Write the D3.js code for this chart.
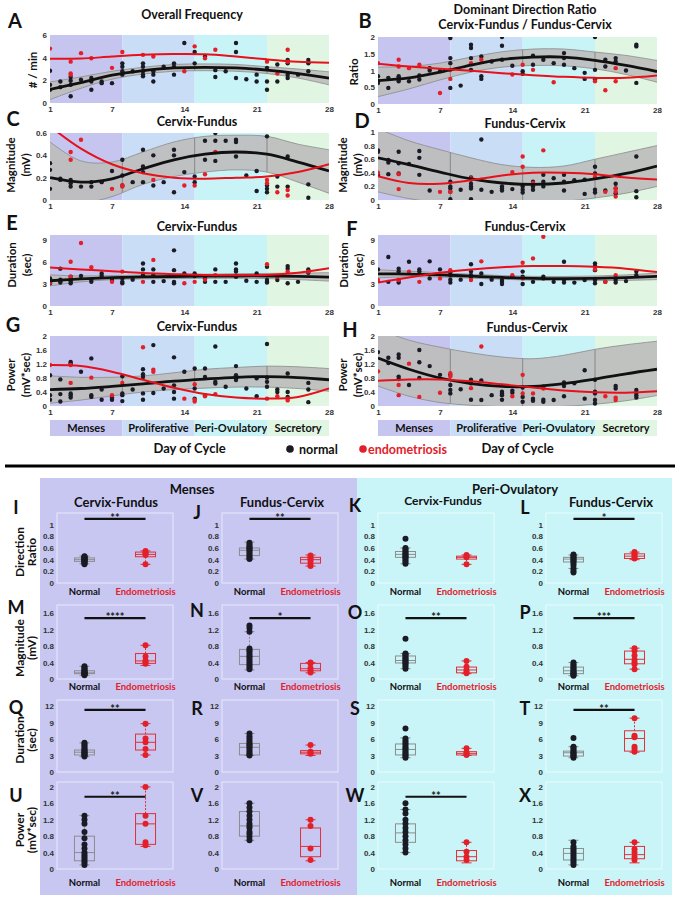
<!DOCTYPE html>
<html><head><meta charset="utf-8">
<script src="https://cdn.jsdelivr.net/npm/d3@7"></script>
<style>body{margin:0;background:#fff}svg{display:block}</style>
</head><body><svg id="c" width="680" height="900"></svg>
<script>
// ================= DATA =================
const dayTicks=[1,7,14,21,28];
const phaseNames=["Menses","Proliferative","Peri-Ovulatory","Secretory"];
const phaseStart=[1,8,15,22];
const phaseEnd=[8,15,22,28];
const fitDays=[1,4,7,10,13,16,19,22,25,28];

// A: Overall Frequency
const aNormal=[[1,2.84],[1,1.6],[1,1.17],[2,1.9],[2,1.4],[3,2.3],[3,1.96],[3,1.6],[3,0.6],[4,2.05],[5,2.2],[5,1.9],[5,1.17],[6,1.9],[6,1.75],[7,1.75],[8,3.5],[8,3.2],[8,2.8],[8,2.5],[9,2.8],[10,3.5],[10,3.2],[10,2.8],[10,2.5],[10,2.35],[11,2.8],[11,2.5],[11,1.9],[12,3.2],[13,3.5],[13,3.2],[13,2.5],[14,5.3],[15,4.5],[15,3.5],[16,4.1],[17,2.9],[17,2.3],[18,2.8],[19,5.3],[19,4.5],[19,2.2],[20,2.1],[21,2.5],[21,1.9],[22,3.1],[22,1.9],[22,1.17],[23,3.4],[23,1.9],[24,3.8],[24,3.5],[24,2.5],[24,2.2],[25,2.5],[26,3.8],[26,3.5],[26,2.8]];
const aEndo=[[1,4.8],[3,3.65],[3,2.6],[3,2.5],[4,4.4],[5,3.95],[7,3.1],[8,4.5],[10,4.25],[11,4.1],[14,2.8],[15,5.0],[16,3.95],[17,4.7],[22,3.65],[23,2.6],[24,4.7],[24,3.65]];
const aFit=[1.2,1.8,2.45,2.85,3.1,3.15,3.1,2.9,2.6,2.2];
const aUpper=[1.85,2.3,2.8,3.15,3.4,3.45,3.4,3.2,3.0,2.75];
const aLower=[0.3,1.3,2.1,2.55,2.8,2.85,2.8,2.6,2.2,1.6];
const aEndoFit=[3.9,3.92,4.1,4.25,4.32,4.3,4.1,3.85,3.65,3.55];

// B: Direction ratio
const bNormal=[[1,0.83],[1,0.68],[1,0.63],[2,0.78],[2,0.48],[3,0.83],[3,0.78],[3,0.73],[3,0.68],[4,0.68],[5,0.85],[5,0.73],[6,1.07],[6,1.0],[7,0.98],[8,1.97],[8,1.37],[8,1.22],[8,0.48],[9,0.55],[10,1.77],[10,1.67],[10,1.37],[10,1.02],[11,1.42],[11,0.83],[11,0.75],[12,1.27],[13,2.0],[13,1.74],[13,1.32],[14,1.14],[15,0.98],[15,0.9],[16,1.44],[16,1.17],[17,1.32],[18,1.22],[19,1.52],[19,1.37],[19,1.17],[20,1.07],[21,0.93],[21,0.75],[22,2.0],[22,1.02],[22,0.73],[23,1.32],[23,1.12],[24,1.37],[24,1.27],[25,1.0],[26,1.77],[26,1.72],[26,0.63]];
const bEndo=[[1,1.22],[3,1.32],[3,1.12],[4,1.07],[5,1.17],[7,0.33],[8,1.02],[8,0.75],[10,1.22],[11,1.32],[14,0.88],[15,1.17],[16,1.02],[18,0.65],[22,0.68],[23,0.41],[24,1.07],[24,0.68]];
const bFit=[0.7,0.78,0.95,1.16,1.33,1.4,1.4,1.3,1.15,0.97];
const bUpper=[1.1,1.12,1.22,1.4,1.56,1.64,1.64,1.55,1.45,1.3];
const bLower=[0.22,0.45,0.72,0.95,1.1,1.15,1.14,1.05,0.88,0.65];
const bEndoFit=[1.2,1.12,1.05,0.99,0.92,0.86,0.81,0.78,0.78,0.85];

// C: Cervix-Fundus magnitude
const cNormal=[[1,0.33],[1,0.27],[1,0.1],[2,0.19],[2,0.18],[3,0.18],[3,0.15],[3,0.12],[4,0.12],[5,0.16],[5,0.12],[6,0.16],[7,0.26],[8,0.36],[8,0.22],[8,0.13],[9,0.16],[10,0.45],[10,0.3],[10,0.25],[10,0.16],[11,0.4],[11,0.13],[12,0.16],[13,0.45],[13,0.4],[13,0.07],[14,0.25],[15,0.21],[15,0.16],[16,0.53],[16,0.36],[17,0.6],[17,0.53],[17,0.35],[18,0.53],[19,0.54],[19,0.52],[19,0.39],[20,0.22],[21,0.26],[21,0.08],[22,0.57],[22,0.13],[22,0.1],[22,0.07],[23,0.21],[23,0.12],[24,0.39],[24,0.12],[26,0.14],[26,0.02]];
const cEndo=[[3,0.43],[3,0.36],[4,0.54],[7,0.1],[8,0.13],[8,0.12],[11,0.18],[14,0.13],[15,0.13],[16,0.23],[17,0.43],[22,0.18],[22,0.15],[23,0.07],[24,0.09],[24,0.04]];
const cFit=[0.2,0.16,0.19,0.28,0.36,0.41,0.43,0.41,0.34,0.26];
const cUpper=[0.52,0.35,0.34,0.43,0.52,0.57,0.58,0.57,0.5,0.45];
const cLower=[-0.12,-0.04,0.03,0.14,0.21,0.25,0.27,0.25,0.16,0.06];
const cEndoFit=[0.66,0.46,0.32,0.24,0.2,0.19,0.2,0.21,0.25,0.32];

// D: Fundus-Cervix magnitude
const dNormal=[[1,0.73],[1,0.71],[1,0.37],[2,0.59],[2,0.55],[2,0.38],[3,0.71],[3,0.54],[3,0.39],[4,0.53],[5,0.72],[5,0.62],[5,0.37],[6,0.14],[8,0.27],[8,0.2],[8,0.17],[8,0.12],[8,0.01],[9,0.15],[10,0.33],[10,0.3],[10,0.24],[10,0.2],[10,0.17],[10,0.01],[11,0.89],[11,0.15],[12,0.12],[13,0.2],[13,0.17],[13,0.14],[14,0.16],[15,0.2],[15,0.15],[15,0.11],[16,0.27],[16,0.2],[16,0.15],[17,0.37],[17,0.27],[17,0.2],[18,0.32],[19,0.37],[19,0.27],[19,0.14],[20,0.29],[21,0.3],[21,0.09],[22,0.49],[22,0.39],[22,0.15],[22,0.11],[23,0.14],[24,0.24],[24,0.17],[24,0.1],[26,0.64],[26,0.13],[26,0.04]];
const dEndo=[[1,0.4],[3,0.38],[3,0.16],[7,0.12],[8,0.12],[10,0.32],[11,0.3],[14,0.41],[15,0.64],[15,0.49],[16,0.25],[17,0.73],[22,0.34],[23,0.12],[24,0.17],[24,0.12],[24,0.05]];
const dFit=[0.62,0.52,0.41,0.31,0.25,0.23,0.25,0.31,0.39,0.5];
const dUpper=[1.05,0.87,0.74,0.62,0.52,0.48,0.5,0.6,0.7,0.8];
const dLower=[0.12,0.02,-0.04,-0.06,-0.05,-0.04,-0.02,0.03,0.1,0.2];
const dEndoFit=[0.35,0.25,0.24,0.29,0.36,0.4,0.4,0.38,0.33,0.3];

// E: Cervix-Fundus duration
const eNormal=[[1,3.77],[1,3.1],[2,5.1],[2,3.6],[2,3.4],[2,3.2],[3,4.0],[3,3.55],[3,3.3],[3,3.1],[4,4.1],[5,3.6],[5,3.3],[6,4.45],[6,4.1],[7,3.55],[8,3.77],[8,3.3],[8,3.1],[9,3.6],[10,5.8],[10,5.0],[10,4.2],[11,5.0],[11,4.2],[11,3.3],[12,3.4],[13,7.6],[13,4.9],[13,3.3],[13,3.1],[14,4.45],[15,4.45],[15,4.1],[16,3.77],[16,3.3],[17,5.0],[17,3.3],[18,3.3],[19,5.8],[19,5.0],[19,4.7],[19,4.0],[20,3.45],[21,4.45],[21,3.3],[22,5.35],[22,3.55],[22,3.3],[22,3.2],[23,3.55],[24,5.45],[24,5.1],[24,3.1],[25,3.3],[26,5.0],[26,4.55]];
const eEndo=[[1,3.2],[3,6.05],[3,4.0],[4,8.6],[5,5.3],[7,3.3],[8,4.7],[10,3.3],[11,6.3],[14,3.1],[15,3.3],[16,3.6],[17,4.2],[22,5.7],[23,4.0],[24,4.7],[26,4.7]];
const eFit=[3.45,3.7,3.88,3.98,4.03,4.07,4.1,4.1,4.05,3.95];
const eUpper=[4.25,4.1,4.15,4.25,4.3,4.35,4.4,4.45,4.5,4.55];
const eLower=[2.75,3.3,3.6,3.7,3.75,3.78,3.8,3.75,3.6,3.4];
const eEndoFit=[5.25,5.0,4.75,4.5,4.35,4.25,4.2,4.25,4.55,5.15];

// F: Fundus-Cervix duration
const fNormal=[[1,5.0],[2,6.7],[2,3.3],[3,5.1],[3,4.7],[3,3.55],[3,3.2],[4,6.05],[5,5.0],[5,4.7],[6,6.1],[6,3.77],[7,5.0],[8,4.55],[8,4.2],[8,3.6],[8,3.2],[9,3.6],[10,5.7],[10,4.7],[10,4.2],[10,4.0],[11,4.45],[11,3.0],[12,3.6],[13,3.55],[13,3.3],[13,3.0],[14,4.0],[15,4.7],[15,4.0],[15,3.0],[16,3.3],[17,4.0],[17,3.77],[18,3.3],[19,6.05],[19,3.55],[19,3.2],[20,3.2],[21,3.55],[22,5.8],[22,5.45],[22,4.9],[22,3.55],[22,3.1],[23,3.3],[24,3.55],[24,3.2],[25,3.4],[26,4.7],[26,4.2]];
const fEndo=[[1,3.55],[3,3.55],[4,4.7],[5,3.3],[7,3.77],[8,4.9],[10,3.55],[11,6.1],[14,4.2],[15,5.9],[15,3.77],[16,6.5],[17,9.45],[22,5.0],[23,3.3],[24,4.2]];
const fFit=[4.4,4.36,4.25,4.08,3.9,3.78,3.75,3.78,3.88,4.05];
const fUpper=[4.95,4.75,4.55,4.35,4.15,4.05,4.03,4.1,4.25,4.5];
const fLower=[3.85,3.98,3.95,3.8,3.65,3.52,3.47,3.46,3.5,3.6];
const fEndoFit=[3.2,3.9,4.55,5.0,5.3,5.45,5.47,5.35,5.1,4.65];

// G: Cervix-Fundus power
const gNormal=[[1,0.88],[1,0.31],[1,0.18],[2,0.76],[2,0.34],[2,0.13],[3,1.26],[3,1.22],[3,0.36],[3,0.31],[3,0.24],[4,0.98],[5,1.36],[5,0.31],[5,0.26],[6,0.47],[6,0.18],[7,0.24],[7,0.18],[8,0.85],[8,0.36],[8,0.31],[8,0.14],[9,0.47],[10,1.05],[10,0.91],[10,0.83],[10,0.36],[10,0.18],[11,1.74],[11,0.37],[12,0.5],[13,1.39],[13,0.59],[13,0.4],[13,0.21],[14,0.98],[15,1.07],[15,0.5],[15,0.21],[16,1.07],[16,0.83],[16,0.31],[17,1.7],[17,0.69],[17,0.64],[18,0.55],[19,1.14],[19,0.88],[19,0.79],[19,0.74],[20,0.5],[21,0.79],[21,0.28],[22,1.77],[22,0.81],[22,0.69],[22,0.55],[23,0.47],[23,0.4],[24,0.93],[24,0.4],[24,0.26],[26,0.66],[26,0.47],[26,0.11]];
const gEndo=[[1,1.17],[3,1.17],[3,0.66],[5,0.81],[7,0.31],[8,0.66],[10,1.68],[11,1.04],[11,0.98],[14,0.21],[15,0.62],[15,0.18],[15,0.13],[16,0.28],[17,0.34],[22,0.21],[23,0.28],[24,0.21],[24,0.16]];
const gFit=[0.47,0.5,0.56,0.63,0.71,0.77,0.82,0.84,0.81,0.75];
const gUpper=[0.86,0.82,0.82,0.86,0.95,1.05,1.1,1.14,1.12,1.07];
const gLower=[0.08,0.17,0.29,0.4,0.47,0.51,0.54,0.54,0.5,0.42];
const gEndoFit=[1.17,1.14,0.98,0.75,0.52,0.34,0.24,0.21,0.26,0.5];

// H: Fundus-Cervix power
const hNormal=[[1,1.54],[2,1.38],[2,1.23],[3,1.47],[3,1.38],[3,0.84],[3,0.77],[4,0.6],[5,1.6],[5,1.25],[5,0.8],[6,1.14],[7,0.89],[8,0.89],[8,0.6],[8,0.46],[8,0.36],[9,0.48],[10,0.75],[10,0.65],[10,0.18],[11,0.73],[11,0.17],[12,0.31],[13,0.41],[13,0.36],[13,0.31],[13,0.18],[14,0.44],[14,0.38],[15,0.53],[15,0.26],[15,0.12],[16,0.21],[16,0.15],[17,0.55],[17,0.18],[17,0.12],[18,0.17],[19,0.67],[19,0.57],[19,0.28],[20,0.65],[21,1.02],[21,0.21],[22,0.75],[22,0.41],[22,0.36],[22,0.17],[22,0.07],[24,0.57],[24,0.5],[26,0.46],[26,0.38],[26,0.31],[26,0.24]];
const hEndo=[[1,0.99],[3,0.6],[3,0.31],[4,1.21],[5,0.26],[7,0.38],[8,0.94],[8,0.84],[10,0.51],[11,1.7],[14,0.28],[15,0.89],[15,0.36],[16,0.36],[17,0.5],[23,0.28],[24,0.24],[24,0.17]];
const hFit=[1.37,1.05,0.8,0.64,0.56,0.56,0.64,0.77,0.92,1.05];
const hUpper=[2.2,1.88,1.68,1.52,1.4,1.35,1.45,1.62,1.75,1.85];
const hLower=[0.57,0.28,0.1,0.02,-0.02,-0.03,-0.01,0.05,0.15,0.3];
const hEndoFit=[0.72,0.76,0.76,0.71,0.62,0.53,0.44,0.39,0.38,0.42];

// Box plots (I..X) stats = [whiskerLow, q1, median, q3, whiskerHigh]
const boxLetters=["I","J","K","L","M","N","O","P","Q","R","S","T","U","V","W","X"];
const boxGroups=["Normal","Endometriosis"];
const normalStats=[[0.33,0.37,0.40,0.43,0.46],[0.41,0.47,0.56,0.60,0.70],[0.33,0.44,0.49,0.54,0.60],[0.25,0.36,0.41,0.44,0.48],
 [0.09,0.13,0.15,0.20,0.31],[0.22,0.35,0.55,0.72,1.15],[0.25,0.39,0.45,0.56,0.62],[0.08,0.13,0.20,0.29,0.40],
 [2.8,3.1,3.6,4.0,5.3],[3.0,3.1,4.5,5.2,7.0],[2.6,3.1,4.1,5.1,6.2],[2.6,2.9,3.5,3.8,4.6],
 [0.1,0.2,0.4,0.8,1.3],[0.7,0.8,1.05,1.4,1.6],[0.4,0.65,0.88,1.1,1.45],[0.1,0.22,0.38,0.5,0.7]];
const endoStats=[[0.32,0.45,0.49,0.53,0.55],[0.29,0.34,0.40,0.44,0.48],[0.32,0.41,0.44,0.46,0.48],[0.40,0.42,0.46,0.50,0.53],
 [0.33,0.38,0.44,0.62,0.82],[0.15,0.20,0.25,0.38,0.40],[0.13,0.15,0.22,0.29,0.44],[0.24,0.37,0.48,0.68,0.75],
 [3.1,4.0,5.4,6.9,8.8],[3.0,3.3,3.6,3.9,4.9],[3.0,3.1,3.4,3.7,4.3],[3.6,3.8,6.1,7.5,9.8],
 [0.55,0.6,1.1,1.35,2.0],[0.2,0.3,0.55,1.0,1.2],[0.15,0.2,0.3,0.45,0.65],[0.15,0.25,0.35,0.55,0.65]];
const normalDots=[[0.32,0.34,0.35,0.37,0.38,0.39,0.4,0.41,0.42,0.43,0.44,0.45,0.46],
 [0.41,0.43,0.46,0.49,0.52,0.55,0.57,0.59,0.61,0.63,0.66,0.69],
 [0.33,0.36,0.39,0.42,0.44,0.46,0.48,0.5,0.52,0.55,0.58,0.6,0.76],
 [0.18,0.21,0.25,0.3,0.34,0.37,0.39,0.41,0.43,0.45,0.47,0.49],
 [0.09,0.11,0.12,0.13,0.14,0.15,0.16,0.18,0.2,0.22,0.25,0.28,0.31],
 [1.3,1.24,1.15,0.74,0.7,0.66,0.61,0.56,0.52,0.47,0.42,0.37,0.33,0.28,0.24],
 [0.25,0.3,0.34,0.38,0.41,0.44,0.47,0.5,0.53,0.57,0.6,0.62,0.98],
 [0.08,0.1,0.12,0.14,0.16,0.19,0.22,0.25,0.28,0.32,0.36,0.4],
 [2.8,3.0,3.1,3.3,3.5,3.6,3.8,4.0,4.2,4.5,4.8,5.1,5.3],
 [3.0,3.2,3.5,3.8,4.2,4.5,4.8,5.0,5.3,5.7,6.1,6.5,7.0],
 [2.6,2.9,3.1,3.4,3.7,4.0,4.3,4.6,5.0,5.3,5.7,6.1,7.9],
 [2.6,2.8,3.0,3.2,3.4,3.6,3.8,4.1,4.4,4.6,6.2],
 [0.1,0.15,0.2,0.25,0.3,0.35,0.4,0.5,0.6,0.75,0.9,1.1,1.2,1.3],
 [0.7,0.78,0.85,0.9,1.0,1.05,1.1,1.2,1.3,1.4,1.5,1.6],
 [0.4,0.5,0.6,0.7,0.8,0.9,1.0,1.1,1.2,1.35,1.45,1.6],
 [0.1,0.15,0.2,0.25,0.3,0.35,0.4,0.45,0.5,0.55,0.65]];
const endoDots=[[0.55,0.52,0.5,0.48,0.32],[0.47,0.44,0.41,0.38,0.33,0.29],[0.48,0.46,0.44,0.32],[0.53,0.5,0.48,0.45,0.42],
 [0.82,0.55,0.45,0.41,0.37],[0.4,0.38,0.26,0.2,0.16],[0.44,0.3,0.22,0.17,0.14],[0.75,0.69,0.57,0.47,0.4,0.36,0.24],
 [8.8,6.1,5.4,4.2,3.1],[4.9,3.7,3.5,3.3],[4.3,3.6,3.3,3.1],[9.8,6.6,6.3,4.6,4.2,3.7],
 [2.0,1.3,1.1,0.65,0.58],[1.2,1.05,0.5,0.22],[0.65,0.42,0.3,0.22],[0.65,0.48,0.4,0.3,0.22]];
const sigStars=["**","**","","*","****","*","**","***","**","","","**","**","","**",""];
const boxRowTicks=[[0,0.2,0.4,0.6,0.8,1],[0,0.4,0.8,1.2,1.6],[0,3,6,9,12],[0,0.4,0.8,1.2,1.6,2]];
const boxRowMax=[1.2,1.8,13.1,2.12];
const sigLevel=[1.1,1.48,11.3,1.76];
const rowYLabels=[["Direction","Ratio"],["Magnitude","(mV)"],["Duration","(sec)"],["Power","(mV*sec)"]];

// ================= DRAW =================
const FONT="Lato, 'Open Sans', 'DejaVu Sans', sans-serif";
const TICKF="'Liberation Sans', Arial, sans-serif";
const svg=d3.select("#c");
svg.append("rect").attr("width",680).attr("height",900).attr("fill","#fff");
const phaseColors=["#c5c5f0","#c9def6","#c9f4f7","#e1f6e2"];
const BLK="#1b1b26", RED="#e3202a";

function txt(g,x,y,s,o={}){
  const t=g.append("text").attr("x",x).attr("y",y).text(s)
   .attr("font-family",o.family||FONT).attr("font-size",o.size||12)
   .attr("font-weight",o.weight||"bold").attr("fill",o.fill||"#111")
   .attr("text-anchor",o.anchor||"middle");
  if(o.rotate) t.attr("transform",`rotate(-90,${x},${y})`);
  return t;
}

const topPanels=[
 {key:"A",title:["Overall Frequency"],ylab:["# / min"],ticks:[0,2,4,6],ymax:6,normal:aNormal,endo:aEndo,fit:aFit,hi:aUpper,lo:aLower,efit:aEndoFit},
 {key:"B",title:["Dominant Direction Ratio","Cervix-Fundus / Fundus-Cervix"],ylab:["Ratio"],ticks:[0,0.5,1,1.5,2],ymax:2,normal:bNormal,endo:bEndo,fit:bFit,hi:bUpper,lo:bLower,efit:bEndoFit},
 {key:"C",title:["Cervix-Fundus"],ylab:["Magnitude","(mV)"],ticks:[0,0.2,0.4,0.6],ymax:0.6,normal:cNormal,endo:cEndo,fit:cFit,hi:cUpper,lo:cLower,efit:cEndoFit},
 {key:"D",title:["Fundus-Cervix"],ylab:["Magnitude","(mV)"],ticks:[0,0.2,0.4,0.6,0.8,1],ymax:1,normal:dNormal,endo:dEndo,fit:dFit,hi:dUpper,lo:dLower,efit:dEndoFit},
 {key:"E",title:["Cervix-Fundus"],ylab:["Duration","(sec)"],ticks:[0,3,6,9],ymax:9.7,normal:eNormal,endo:eEndo,fit:eFit,hi:eUpper,lo:eLower,efit:eEndoFit},
 {key:"F",title:["Fundus-Cervix"],ylab:["Duration","(sec)"],ticks:[0,3,6,9],ymax:9.7,normal:fNormal,endo:fEndo,fit:fFit,hi:fUpper,lo:fLower,efit:fEndoFit},
 {key:"G",title:["Cervix-Fundus"],ylab:["Power","(mV*sec)"],ticks:[0,0.4,0.8,1.2,1.6,2],ymax:2,normal:gNormal,endo:gEndo,fit:gFit,hi:gUpper,lo:gLower,efit:gEndoFit},
 {key:"H",title:["Fundus-Cervix"],ylab:["Power","(mV*sec)"],ticks:[0,0.4,0.8,1.2,1.6,2],ymax:2,normal:hNormal,endo:hEndo,fit:hFit,hi:hUpper,lo:hLower,efit:hEndoFit}
];
const topLayout={
 A:{x0:50,x1:329,y0:35,y1:103,lx:15,ly:28,tx:192,ty:[19],labx:[33],laby:70},
 B:{x0:378,x1:657,y0:37,y1:104,lx:365,ly:28,tx:525,ty:[14,29],labx:[354],laby:72},
 C:{x0:50,x1:329,y0:133,y1:200,lx:13,ly:126,tx:197,ty:[126],labx:[11,26],laby:165},
 D:{x0:378,x1:657,y0:132,y1:200,lx:362,ly:128,tx:525,ty:[128],labx:[343,358],laby:165},
 E:{x0:50,x1:329,y0:235,y1:306,lx:12,ly:230,tx:197,ty:[231],labx:[12,27],laby:265},
 F:{x0:378,x1:657,y0:235,y1:306,lx:352,ly:236,tx:525,ty:[231],labx:[344,359],laby:265},
 G:{x0:50,x1:329,y0:336,y1:406,lx:13,ly:332,tx:197,ty:[331],labx:[11,26],laby:375},
 H:{x0:378,x1:657,y0:336,y1:406,lx:350,ly:337,tx:527,ty:[332],labx:[343,358],laby:375}
};

const defs=svg.append("defs");
topPanels.forEach(p=>{
  const L=topLayout[p.key];
  const x=d3.scaleLinear().domain([1,28]).range([L.x0,L.x1]);
  const y=d3.scaleLinear().domain([0,p.ymax]).range([L.y1,L.y0]);
  const g=svg.append("g");
  defs.append("clipPath").attr("id","clip"+p.key).append("rect")
    .attr("x",L.x0).attr("y",L.y0).attr("width",L.x1-L.x0).attr("height",L.y1-L.y0);
  const pg=g.append("g").attr("clip-path",`url(#clip${p.key})`);
  phaseStart.forEach((s,i)=>pg.append("rect").attr("x",x(s)).attr("width",x(phaseEnd[i])-x(s))
    .attr("y",L.y0).attr("height",L.y1-L.y0).attr("fill",phaseColors[i]));
  const pts=fitDays.map((d,i)=>({d,lo:p.lo[i],hi:p.hi[i],m:p.fit[i],e:p.efit[i]}));
  const area=d3.area().x(d=>x(d.d)).y0(d=>y(d.lo)).y1(d=>y(d.hi)).curve(d3.curveCatmullRom);
  pg.append("path").attr("d",area(pts)).attr("fill","#bdbdbd").attr("fill-opacity",0.92);
  defs.append("clipPath").attr("id","ci"+p.key).append("path").attr("d",area(pts));
  const vg=pg.append("g").attr("clip-path",`url(#ci${p.key})`);
  phaseStart.slice(1).forEach(d=>vg.append("line").attr("x1",x(d)).attr("x2",x(d))
    .attr("y1",L.y0).attr("y2",L.y1).attr("stroke","#7a7a7a").attr("stroke-width",0.8));
  ["hi","lo"].forEach(k=>pg.append("path")
    .attr("d",d3.line().x(d=>x(d.d)).y(d=>y(d[k])).curve(d3.curveCatmullRom)(pts))
    .attr("fill","none").attr("stroke","#8a8a8a").attr("stroke-width",0.8));
  pg.selectAll(".n").data(p.normal).enter().append("circle")
    .attr("cx",d=>x(d[0])).attr("cy",d=>y(d[1])).attr("r",2.2).attr("fill",BLK);
  pg.selectAll(".e").data(p.endo).enter().append("circle")
    .attr("cx",d=>x(d[0])).attr("cy",d=>y(d[1])).attr("r",2.2).attr("fill",RED);
  pg.append("path").attr("d",d3.line().x(d=>x(d.d)).y(d=>y(d.m)).curve(d3.curveCatmullRom)(pts))
    .attr("fill","none").attr("stroke","#111").attr("stroke-width",2.8);
  pg.append("path").attr("d",d3.line().x(d=>x(d.d)).y(d=>y(d.e)).curve(d3.curveCatmullRom)(pts))
    .attr("fill","none").attr("stroke","#e8101a").attr("stroke-width",2);
  // axes
  const ax=g.append("g").attr("transform",`translate(0,${L.y1})`)
    .call(d3.axisBottom(x).tickValues(dayTicks).tickSize(0).tickPadding(3));
  const ay=g.append("g").attr("transform",`translate(${L.x0},0)`)
    .call(d3.axisLeft(y).tickValues(p.ticks).tickSize(0).tickPadding(3).tickFormat(d3.format("~g")));
  [ax,ay].forEach(a=>{a.select(".domain").remove();
    a.selectAll("text").attr("font-family",TICKF).attr("font-size",8).attr("font-weight","bold").attr("fill","#333");});
  // labels
  txt(g,L.lx,L.ly,p.key,{size:20});
  p.title.forEach((t,i)=>txt(g,L.tx,L.ty[i],t,{size:12.5}));
  p.ylab.forEach((t,i)=>txt(g,L.labx[i]+4,L.laby,t,{size:11.5,rotate:true}));
  // phase bar under G/H
  if(p.key==="G"||p.key==="H"){
    phaseStart.forEach((s,i)=>{
      g.append("rect").attr("x",x(s)).attr("width",x(phaseEnd[i])-x(s)).attr("y",420).attr("height",16).attr("fill",phaseColors[i]);
      txt(g,(x(s)+x(phaseEnd[i]))/2,432,phaseNames[i],{size:11});
    });
    txt(g,(L.x0+L.x1)/2,453,"Day of Cycle",{size:13});
  }
});
// legend
svg.append("circle").attr("cx",290).attr("cy",449).attr("r",3.8).attr("fill",BLK);
txt(svg,299,453.5,"normal",{size:12.5,anchor:"start"});
svg.append("circle").attr("cx",363).attr("cy",449).attr("r",3.8).attr("fill",RED);
txt(svg,368,453.5,"endometriosis",{size:12.5,anchor:"start",fill:RED});
// divider
svg.append("line").attr("x1",5).attr("x2",675).attr("y1",466).attr("y2",466).attr("stroke","#000").attr("stroke-width",3);

// ===== bottom section =====
svg.append("rect").attr("x",40).attr("y",478).attr("width",317).attr("height",417).attr("fill","#c7c7f2");
svg.append("rect").attr("x",357).attr("y",478).attr("width",315).attr("height",417).attr("fill","#c9f5f8");
txt(svg,192,494,"Menses",{size:13});
txt(svg,515,494,"Peri-Ovulatory",{size:13});
txt(svg,116,507,"Cervix-Fundus",{size:13});
txt(svg,282,507,"Fundus-Cervix",{size:13});
txt(svg,443,505,"Cervix-Fundus",{size:12});
txt(svg,611,507,"Fundus-Cervix",{size:13});

const colLeft=[57,222,378,546], plotW=116;
const rowLayout=[{top:513,bottom:583,lab:595,ly:552},{top:605,bottom:679,lab:690,ly:648},{top:700,bottom:772,lab:null,ly:740},{top:782,bottom:869,lab:886,ly:830}];
const letterX=[16,197,355,525];
const letterY=[[514,519,512,514],[614,617,619,619],[714,715,715,715],[802,802,802,802]];

rowYLabels.forEach((lab,r)=>{
  txt(svg,24,rowLayout[r].ly,lab[0],{size:12,rotate:true});
  txt(svg,36,rowLayout[r].ly,lab[1],{size:12,rotate:true});
});

boxLetters.forEach((letter,k)=>{
  const r=Math.floor(k/4), c=k%4, R=rowLayout[r];
  const g=svg.append("g");
  const xs=d3.scalePoint().domain(boxGroups).range([colLeft[c],colLeft[c]+plotW]).padding(0.45);
  const y=d3.scaleLinear().domain([0,boxRowMax[r]]).range([R.bottom,R.top]);
  g.append("rect").attr("x",colLeft[c]).attr("y",R.top).attr("width",plotW).attr("height",R.bottom-R.top)
    .attr("fill","none").attr("stroke","rgba(255,255,255,0.6)").attr("stroke-width",1);
  const ay=g.append("g").attr("transform",`translate(${colLeft[c]},0)`)
    .call(d3.axisLeft(y).tickValues(boxRowTicks[r]).tickSize(0).tickPadding(3).tickFormat(d3.format("~g")));
  ay.select(".domain").remove();
  ay.selectAll("text").attr("font-family",TICKF).attr("font-size",8).attr("font-weight","bold").attr("fill","#333");
  txt(g,letterX[c],letterY[r][c],letter,{size:18});
  [[normalStats[k],normalDots[k],"#8d8d8d",BLK,"Normal"],[endoStats[k],endoDots[k],"#e0303a",RED,"Endometriosis"]].forEach(([st,dots,bc,dc,grp])=>{
    const cx=xs(grp), w=20;
    const [wl,q1,md,q3,wh]=st;
    g.append("line").attr("x1",cx).attr("x2",cx).attr("y1",y(q3)).attr("y2",y(wh)).attr("stroke",bc).attr("stroke-dasharray","2,1.5");
    g.append("line").attr("x1",cx).attr("x2",cx).attr("y1",y(q1)).attr("y2",y(wl)).attr("stroke",bc).attr("stroke-dasharray","2,1.5");
    [wl,wh].forEach(v=>g.append("line").attr("x1",cx-w/4).attr("x2",cx+w/4).attr("y1",y(v)).attr("y2",y(v)).attr("stroke",bc));
    g.append("rect").attr("x",cx-w/2).attr("width",w).attr("y",y(q3)).attr("height",y(q1)-y(q3)).attr("fill","none").attr("stroke",bc);
    g.append("line").attr("x1",cx-w/2).attr("x2",cx+w/2).attr("y1",y(md)).attr("y2",y(md)).attr("stroke",bc);
    g.selectAll(null).data(dots).enter().append("circle").attr("cx",cx).attr("cy",d=>y(d)).attr("r",3).attr("fill",dc);
    if(R.lab) txt(g,cx,R.lab,grp,{size:9.5,fill:grp==="Normal"?"#111":RED});
  });
  if(sigStars[k]){
    const sy=y(sigLevel[r]), x1=xs("Normal"), x2=xs("Endometriosis");
    g.append("line").attr("x1",x1).attr("x2",x2).attr("y1",sy).attr("y2",sy).attr("stroke","#111").attr("stroke-width",2.2);
    txt(g,(x1+x2)/2,sy+3,sigStars[k],{size:11,fill:"#222"});
  }
});
</script></body></html>
